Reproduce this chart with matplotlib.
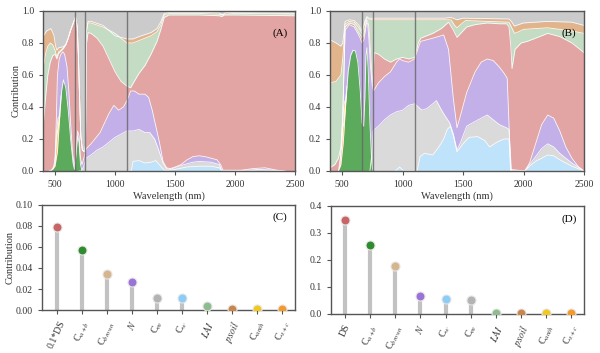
import numpy as np
import matplotlib
matplotlib.use('Agg')
import matplotlib.pyplot as plt
from matplotlib.ticker import FormatStrFormatter

plt.rcParams['font.family'] = 'Liberation Serif'
plt.rcParams['mathtext.fontset'] = 'stix'

# ---- panel A: cumulative tops of each stacked contribution
A_cab_wl = [450, 480, 500, 520, 540, 555, 570, 590, 610, 630, 650, 662, 675, 688, 700, 712, 725]
A_cab = [0.0, 0.01, 0.03, 0.12, 0.35, 0.50, 0.57, 0.52, 0.38, 0.20, 0.05, 0.01, 0.10, 0.22, 0.18, 0.04, 0.0]
A_cxc_wl = [485, 500, 510, 520, 530, 540]
A_cxc = [0.015, 0.05, 0.18, 0.25, 0.28, 0.35]
A_canth_wl = [500, 515, 525, 535, 545, 550]
A_canth = [0.05, 0.26, 0.33, 0.34, 0.42, 0.47]
A_cw_wl = [1110, 1135, 1150, 1200, 1250, 1300, 1340, 1375, 1410, 1440, 1500, 1600, 1700, 1800,
           1870, 1890, 2100, 2200, 2300, 2360]
A_cw = [0.0, 0.0, 0.06, 0.065, 0.05, 0.055, 0.065, 0.035, 0.005, 0.005, 0.01, 0.025, 0.03, 0.03,
        0.02, 0.0, 0.0, 0.006, 0.004, 0.0]
A_cm_wl = [700, 720, 740, 760, 800, 850, 900, 950, 1000, 1050, 1100, 1150, 1200, 1250, 1290, 1330,
           1360, 1400, 1430, 1460, 1550, 1650, 1700, 1800, 1870, 1890, 2000, 2100, 2200, 2300, 2400]
A_cm = [0.0, 0.0, 0.03, 0.08, 0.10, 0.13, 0.15, 0.18, 0.21, 0.23, 0.25, 0.25, 0.26, 0.24, 0.24, 0.2,
        0.14, 0.05, 0.015, 0.01, 0.035, 0.055, 0.06, 0.055, 0.04, 0.0, 0.0, 0.005, 0.01, 0.006, 0.0]
A_n_wl = [470, 490, 500, 510, 520, 535, 550, 565, 580, 600, 615, 630, 645, 660, 675, 688, 700, 712,
          725, 740, 760, 800, 875, 950, 990, 1030, 1070, 1100, 1130, 1160, 1200, 1250, 1280, 1310,
          1340, 1370, 1400, 1430, 1460, 1500, 1550, 1600, 1650, 1700, 1750, 1800, 1850, 1880, 1900,
          2050, 2150, 2250, 2350, 2420]
A_n = [0.0, 0.03, 0.08, 0.3, 0.6, 0.70, 0.73, 0.745, 0.73, 0.65, 0.5, 0.3, 0.12, 0.03, 0.12, 0.25,
       0.22, 0.08, 0.04, 0.08, 0.14, 0.17, 0.24, 0.36, 0.41, 0.38, 0.40, 0.44, 0.50, 0.50, 0.48, 0.48,
       0.46, 0.38, 0.28, 0.18, 0.06, 0.02, 0.015, 0.025, 0.04, 0.07, 0.09, 0.095, 0.09, 0.08, 0.07,
       0.04, 0.005, 0.005, 0.015, 0.02, 0.005, 0.0]
A_ds_wl = [400, 420, 440, 460, 480, 500, 515, 530, 550, 570, 590, 610, 630, 650, 672, 685, 695, 705,
           715, 728, 745, 754, 763, 775, 800, 850, 900, 950, 1000, 1050, 1100, 1130, 1160, 1200,
           1250, 1300, 1350, 1380, 1410, 1450, 1500, 1700, 1870, 1890, 1910, 2000, 2500]
A_ds = [0.27, 0.45, 0.60, 0.68, 0.72, 0.73, 0.70, 0.735, 0.75, 0.765, 0.79, 0.83, 0.88, 0.92, 0.965,
        0.90, 0.72, 0.45, 0.22, 0.13, 0.12, 0.16, 0.80, 0.865, 0.86, 0.83, 0.78, 0.70, 0.62, 0.56,
        0.53, 0.52, 0.56, 0.61, 0.66, 0.73, 0.81, 0.88, 0.96, 0.975, 0.975, 0.975, 0.97, 0.965,
        0.975, 0.975, 0.97]
A_lai_wl = [400, 420, 440, 460, 480, 500, 515, 530, 550, 570, 590, 610, 630, 650, 672, 685, 695, 705,
            715, 728, 745, 754, 763, 775, 800, 900, 1000, 1050, 1100, 1150, 1200, 1300, 1350, 1380,
            1410, 1450, 1500, 1700, 1870, 1890, 1910, 2000, 2500]
A_lai = [0.63, 0.73, 0.78, 0.80, 0.79, 0.755, 0.71, 0.745, 0.755, 0.77, 0.79, 0.83, 0.88, 0.92,
         0.965, 0.90, 0.72, 0.45, 0.22, 0.13, 0.12, 0.16, 0.87, 0.925, 0.925, 0.90, 0.86, 0.83, 0.80,
         0.80, 0.815, 0.845, 0.87, 0.91, 0.975, 0.985, 0.985, 0.985, 0.98, 0.975, 0.98, 0.985, 0.98]
A_brown_wl = [400, 430, 465, 490, 505, 515, 530, 560, 575, 590, 610, 630, 650, 672, 685, 695, 705,
              715, 728, 745, 754, 763, 775, 800, 900, 1000, 1050, 1100, 1150, 1200, 1300, 1350,
              1380, 1410, 1450, 1800, 1870, 1895, 1920, 2000, 2500]
A_brown = [0.84, 0.875, 0.89, 0.85, 0.78, 0.755, 0.77, 0.775, 0.78, 0.79, 0.83, 0.88, 0.92, 0.965,
           0.90, 0.72, 0.45, 0.22, 0.13, 0.12, 0.16, 0.88, 0.935, 0.935, 0.91, 0.845, 0.835, 0.825,
           0.825, 0.84, 0.865, 0.89, 0.93, 0.985, 0.99, 0.99, 0.988, 0.975, 0.99, 0.99, 0.985]

# ---- panel B
B_cab_wl = [470, 490, 510, 530, 550, 570, 590, 610, 630, 650, 665, 678, 688, 697, 705, 715, 730, 745, 755]
B_cab = [0.0, 0.04, 0.18, 0.42, 0.62, 0.72, 0.755, 0.75, 0.68, 0.50, 0.30, 0.28, 0.45, 0.72, 0.77,
         0.65, 0.30, 0.05, 0.0]
B_cxc_wl = [480, 495, 505, 515, 525, 535]
B_cxc = [0.02, 0.15, 0.27, 0.30, 0.38, 0.48]
B_canth_wl = [495, 505, 512, 520, 530, 540]
B_canth = [0.15, 0.28, 0.40, 0.43, 0.45, 0.53]
B_cw_wl = [940, 975, 1010, 1120, 1145, 1180, 1250, 1300, 1340, 1370, 1395, 1420, 1450, 1500, 1550,
           1620, 1680, 1720, 1780, 1840, 1880, 1893, 2010, 2050, 2100, 2150, 2200, 2250, 2300, 2350,
           2400, 2450, 2500]
B_cw = [0.0, 0.025, 0.0, 0.0, 0.09, 0.11, 0.10, 0.15, 0.20, 0.26, 0.28, 0.22, 0.12, 0.17, 0.21,
        0.215, 0.19, 0.15, 0.18, 0.20, 0.20, 0.0, 0.0, 0.03, 0.06, 0.08, 0.10, 0.095, 0.07, 0.05,
        0.03, 0.015, 0.0]
B_cm_wl = [730, 745, 756, 800, 850, 900, 950, 1000, 1050, 1100, 1130, 1160, 1200, 1250, 1280, 1330,
           1390, 1420, 1450, 1480, 1530, 1600, 1700, 1750, 1800, 1860, 1880, 1895, 2010, 2050, 2100,
           2150, 2200, 2250, 2300, 2400, 2500]
B_cm = [0.0, 0.10, 0.25, 0.28, 0.32, 0.35, 0.37, 0.38, 0.41, 0.42, 0.40, 0.38, 0.39, 0.42, 0.44,
        0.37, 0.30, 0.23, 0.13, 0.18, 0.28, 0.31, 0.35, 0.32, 0.29, 0.27, 0.26, 0.01, 0.0, 0.04,
        0.09, 0.14, 0.17, 0.15, 0.11, 0.05, 0.0]
B_n_wl = [470, 485, 495, 505, 515, 525, 560, 600, 630, 650, 665, 680, 692, 702, 712, 722, 735, 750,
          760, 800, 850, 900, 950, 975, 1000, 1050, 1100, 1130, 1150, 1250, 1340, 1380, 1420, 1450,
          1480, 1530, 1600, 1650, 1700, 1750, 1800, 1840, 1865, 1885, 1900, 2010, 2050, 2100, 2150,
          2200, 2250, 2300, 2350, 2400, 2450, 2500]
B_n = [0.0, 0.08, 0.17, 0.32, 0.60, 0.88, 0.915, 0.90, 0.86, 0.83, 0.80, 0.82, 0.87, 0.93, 0.92,
       0.82, 0.65, 0.53, 0.50, 0.55, 0.59, 0.62, 0.68, 0.70, 0.69, 0.68, 0.70, 0.77, 0.81, 0.83,
       0.85, 0.76, 0.45, 0.27, 0.35, 0.49, 0.62, 0.68, 0.70, 0.69, 0.65, 0.61, 0.58, 0.2, 0.0, 0.0,
       0.05, 0.17, 0.29, 0.35, 0.33, 0.25, 0.15, 0.08, 0.03, 0.0]
B_ds_wl = [400, 440, 470, 490, 505, 515, 525, 560, 600, 630, 650, 665, 680, 692, 702, 712, 722, 735,
           745, 752, 758, 765, 800, 850, 900, 950, 1000, 1050, 1100, 1130, 1150, 1250, 1320, 1380,
           1420, 1450, 1480, 1530, 1600, 1700, 1800, 1860, 1880, 1895, 1905, 1930, 1980, 2030, 2100,
           2200, 2300, 2400, 2450, 2500]
B_ds = [0.02, 0.04, 0.08, 0.15, 0.35, 0.62, 0.90, 0.925, 0.915, 0.875, 0.85, 0.83, 0.85, 0.90,
        0.945, 0.935, 0.90, 0.75, 0.62, 0.53, 0.62, 0.74, 0.73, 0.70, 0.68, 0.70, 0.71, 0.70, 0.71,
        0.80, 0.83, 0.86, 0.89, 0.93, 0.88, 0.835, 0.86, 0.90, 0.915, 0.925, 0.92, 0.92, 0.90, 0.78,
        0.64, 0.76, 0.80, 0.81, 0.83, 0.86, 0.84, 0.80, 0.77, 0.74]
B_lai_wl = [400, 450, 490, 505, 515, 525, 560, 600, 640, 665, 690, 705, 720, 760, 1000, 1400, 1430,
            1450, 1480, 1520, 1880, 1900, 1925, 1960, 2000, 2100, 2200, 2300, 2400, 2500]
B_lai = [0.55, 0.56, 0.60, 0.70, 0.80, 0.92, 0.935, 0.93, 0.895, 0.86, 0.93, 0.96, 0.95, 0.945,
         0.945, 0.945, 0.91, 0.895, 0.915, 0.94, 0.93, 0.90, 0.86, 0.87, 0.885, 0.89, 0.895, 0.885,
         0.875, 0.86]
B_brown_wl = [400, 450, 490, 505, 515, 525, 560, 600, 640, 665, 690, 705, 720, 760, 1000, 1350, 1400,
              1450, 1500, 1880, 1900, 1925, 1960, 2000, 2200, 2400, 2500]
B_brown = [0.82, 0.80, 0.78, 0.80, 0.86, 0.935, 0.945, 0.94, 0.91, 0.875, 0.94, 0.965, 0.955, 0.955,
           0.955, 0.955, 0.96, 0.945, 0.955, 0.95, 0.935, 0.905, 0.915, 0.925, 0.935, 0.93, 0.91]

# ---- lollipop panels
C_names = ['0.1*DS', r'C$_{a+b}$', r'C$_{brown}$', r'$N$', r'C$_{m}$', r'C$_{w}$', r'$LAI$',
           r'$psoil$', r'C$_{anth}$', r'C$_{x+c}$']
C_vals = [0.079, 0.057, 0.034, 0.027, 0.0115, 0.011, 0.0035, 0.0005, 0.0005, 0.0005]
D_names = ['DS', r'C$_{a+b}$', r'C$_{brown}$', r'$N$', r'C$_{w}$', r'C$_{m}$', r'$LAI$',
           r'$psoil$', r'C$_{anth}$', r'C$_{x+c}$']
D_vals = [0.347, 0.255, 0.178, 0.065, 0.057, 0.052, 0.004, 0.002, 0.002, 0.002]

mark_col = {'DS': '#c96464', 'Cab': '#2e8b2e', 'Cbrown': '#d6b48e', 'N': '#9a73d6',
            'Cm': '#b3b3b3', 'Cw': '#8ccdf5', 'LAI': '#8fbc8f', 'psoil': '#c8864a',
            'Canth': '#f0c820', 'Cxc': '#f39a2a'}
C_keys = ['DS', 'Cab', 'Cbrown', 'N', 'Cm', 'Cw', 'LAI', 'psoil', 'Canth', 'Cxc']
D_keys = ['DS', 'Cab', 'Cbrown', 'N', 'Cw', 'Cm', 'LAI', 'psoil', 'Canth', 'Cxc']

area_col = {'brown': '#e2b48c', 'lai': '#c4dcc4', 'ds': '#e3a4a4', 'n': '#c4b0e9',
            'cm': '#dadada', 'cw': '#bfe3fa', 'canth': '#ffe46e', 'cxc': '#fcc070', 'cab': '#5caa5c'}

vlines = [665, 753, 1100]


def style(ax):
    for s in ax.spines.values():
        s.set_color('#555555')
        s.set_linewidth(1.0)
    ax.tick_params(colors='#555555', labelcolor='#333333', labelsize=7, length=3, width=0.8)


def draw_stack(ax, layers, label):
    ax.set_facecolor('#cbcbcb')
    for wl, top, key in layers:
        ax.fill_between(wl, 0, top, color=area_col[key], lw=0)
    for wl, top, key in layers:
        ax.plot(wl, top, color='white', lw=0.6, alpha=0.9)
    for v in vlines:
        ax.axvline(v, color='#6a6a6a', lw=1.0, alpha=0.85)
    ax.set_xlim(400, 2500)
    ax.set_ylim(0, 1)
    ax.set_xticks([500, 1000, 1500, 2000, 2500])
    ax.set_yticks(np.arange(0, 1.01, 0.2))
    ax.yaxis.set_major_formatter(FormatStrFormatter('%.1f'))
    ax.set_xlabel('Wavelength (nm)', fontsize=7.5, color='#333333', labelpad=2)
    ax.text(0.97, 0.86, label, transform=ax.transAxes, ha='right', va='center', fontsize=8)
    style(ax)


def draw_lolli(ax, names, vals, keys, label, ymax, step, fmt, xl):
    x = np.arange(len(vals))
    ax.vlines(x, 0, vals, color='#c2c2c2', lw=3.0, zorder=1)
    for xi, v, k in zip(x, vals, keys):
        ax.plot(xi, v, 'o', ms=6.5, color=mark_col[k], mec='#e6e6e6', mew=0.8, zorder=3)
    ax.set_xlim(xl, 9.5)
    ax.set_ylim(0, ymax)
    ax.set_yticks(np.arange(0, ymax + 1e-9, step))
    ax.yaxis.set_major_formatter(FormatStrFormatter(fmt))
    ax.set_xticks(x)
    ax.set_xticklabels(names, rotation=65, fontsize=7.5)
    ax.text(0.97, 0.88, label, transform=ax.transAxes, ha='right', va='center', fontsize=8)
    style(ax)


fig = plt.figure(figsize=(6, 3.53), dpi=100)
axA = fig.add_axes([0.0717, 0.5156, 0.42, 0.4533])
axB = fig.add_axes([0.55, 0.5156, 0.4233, 0.4533])
axC = fig.add_axes([0.07, 0.1218, 0.4217, 0.2975])
axD = fig.add_axes([0.5517, 0.1105, 0.4217, 0.306])

draw_stack(axA, [(A_brown_wl, A_brown, 'brown'), (A_lai_wl, A_lai, 'lai'), (A_ds_wl, A_ds, 'ds'),
                 (A_n_wl, A_n, 'n'), (A_cm_wl, A_cm, 'cm'), (A_cw_wl, A_cw, 'cw'),
                 (A_canth_wl, A_canth, 'canth'), (A_cxc_wl, A_cxc, 'cxc'), (A_cab_wl, A_cab, 'cab')],
           '(A)')
draw_stack(axB, [(B_brown_wl, B_brown, 'brown'), (B_lai_wl, B_lai, 'lai'), (B_ds_wl, B_ds, 'ds'),
                 (B_n_wl, B_n, 'n'), (B_cm_wl, B_cm, 'cm'), (B_cw_wl, B_cw, 'cw'),
                 (B_canth_wl, B_canth, 'canth'), (B_cxc_wl, B_cxc, 'cxc'), (B_cab_wl, B_cab, 'cab')],
           '(B)')
axA.set_ylabel('Contribution', fontsize=7.5, color='#333333', labelpad=1)

draw_lolli(axC, C_names, C_vals, C_keys, '(C)', 0.10, 0.02, '%.2f', -0.6)
draw_lolli(axD, D_names, D_vals, D_keys, '(D)', 0.40, 0.1, '%.1f', -0.55)
axC.set_ylabel('Contribution', fontsize=7.5, color='#333333', labelpad=1)

fig.savefig('out.png', dpi=100)
